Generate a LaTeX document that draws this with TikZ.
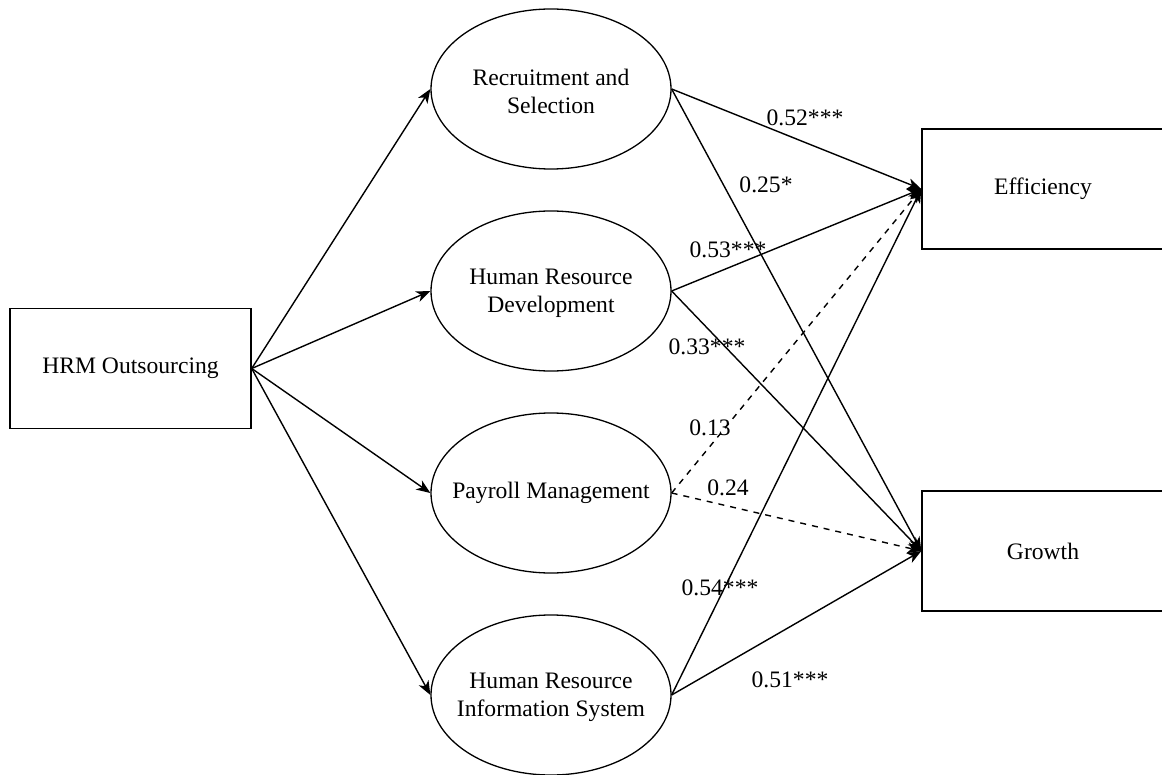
\documentclass[tikz,border=0pt]{standalone}
\usepackage{fontspec}
\setmainfont{Liberation Serif}
\usetikzlibrary{shapes.geometric,arrows.meta}
\begin{document}
\begin{tikzpicture}[x=0.5pt,y=-0.5pt,
  every node/.style={font=\fontsize{11.8}{14}\selectfont},
  boxnode/.style={draw,line width=0.7pt,rectangle,minimum width=120.5pt,minimum height=60pt,inner sep=0pt},
  ellnode/.style={draw,line width=0.65pt,ellipse,minimum width=120pt,minimum height=80pt,inner sep=0pt},
  ellabel/.style={align=center,inner sep=0pt},
  arr/.style={line width=0.7pt,-{Stealth[length=7pt,width=5.5pt,inset=2pt]}},
  dsh/.style={arr,dash pattern=on 3pt off 3pt},
  coef/.style={inner sep=0pt}]
\useasboundingbox (0,0) rectangle (1162,775);
\node[boxnode] (hrm) at (130.5,368.5) {HRM Outsourcing};
\node[boxnode,minimum width=121pt] (eff) at (1043,189) {Efficiency};
\node[boxnode,minimum width=121pt] (gro) at (1043,551) {Growth};
\node[ellnode] (rs) at (551,89) {};
\node[ellnode] (hrd) at (551,291) {};
\node[ellnode] (pm) at (551,493) {};
\node[ellnode] (hris) at (551,695) {};
\node[ellabel] (rst) at ([yshift=-1pt]rs.center) {Recruitment and\\Selection};
\node[ellabel] (hrdt) at ([yshift=-1pt]hrd.center) {Human Resource\\Development};
\node[ellabel] (pmt) at (pm.center) {Payroll Management};
\node[ellabel] (hrist) at ([yshift=-1pt]hris.center) {Human Resource\\Information System};
\draw[arr] (hrm.east) -- (rs.west);
\draw[arr] (hrm.east) -- (hrd.west);
\draw[arr] (hrm.east) -- (pm.west);
\draw[arr] (hrm.east) -- (hris.west);
\draw[arr] (rs.east) -- (eff.west);
\draw[arr] (rs.east) -- (gro.west);
\draw[arr] (hrd.east) -- (eff.west);
\draw[arr] (hrd.east) -- (gro.west);
\draw[dsh] (pm.east) -- (eff.west);
\draw[dsh] (pm.east) -- (gro.west);
\draw[arr] (hris.east) -- (eff.west);
\draw[arr] (hris.east) -- (gro.west);
\node[coef] (c1) at (805,118) {0.52***};
\node[coef] (c2) at (766,185) {0.25*};
\node[coef] (c3) at (728,250) {0.53***};
\node[coef] (c4) at (707,347) {0.33***};
\node[coef] (c5) at (710,428) {0.13};
\node[coef] (c6) at (728,488) {0.24};
\node[coef] (c7) at (720,588) {0.54***};
\node[coef] (c8) at (790,680) {0.51***};
\end{tikzpicture}
\end{document}
